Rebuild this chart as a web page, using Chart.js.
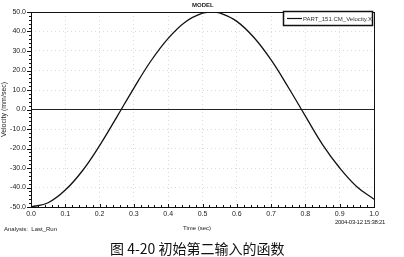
<!DOCTYPE html>
<html>
<head>
<meta charset="utf-8">
<script src="https://cdn.jsdelivr.net/npm/chart.js@4/dist/chart.umd.min.js"></script>
<style>
  body { margin: 0; background: #fff; }
  #wrap { position: relative; width: 404px; height: 257px; overflow: hidden; }
  #myChart { position: absolute; left: 0; top: 0; }
  .txt { position: absolute; font-family: "Liberation Sans", Arial, sans-serif; color: #222; white-space: nowrap; }
</style>
</head>
<body>
<div id="wrap">
  <canvas id="myChart" width="404" height="257"></canvas>
  <div class="txt" style="left:192px; top:2px; font-size:6px; font-weight:bold;">MODEL</div>
  <div class="txt" style="left:183px; top:225px; font-size:6px;">Time (sec)</div>
  <div class="txt" style="left:4px; top:226px; font-size:6px;">Analysis:&nbsp; Last_Run</div>
  <div class="txt" style="left:335px; top:219px; font-size:6px; letter-spacing:-0.3px;">2004-03-12 15:38:21</div>
  <div class="txt" style="left:110px; top:238px; font-size:14px; font-family:'Noto Sans CJK SC', sans-serif; color:#111;">图 4-20 初始第二输入的函数</div>
</div>
<script>
'use strict';

//time values along the x axis (sec)
let timeValues = [0.0, 0.05, 0.1, 0.15, 0.2, 0.25, 0.3, 0.35, 0.4, 0.45, 0.5, 0.53, 0.55, 0.6, 0.65, 0.7, 0.75, 0.8, 0.85, 0.9, 0.95, 1.0];
//velocity (mm/sec)
let velocityValues = [-50.0, -47.8, -41.3, -31.4, -18.5, -3.9, 11.0, 25.0, 36.5, 44.9, 49.4, 50.0, 49.5, 45.2, 36.9, 25.4, 11.4, -3.4, -18.0, -30.0, -39.6, -46.0];
//the zero reference line
let zeroTimes = [0.0, 1.0];
let zeroValues = [0, 0];
//tick labels
let xTicks = ['0.0', '0.1', '0.2', '0.3', '0.4', '0.5', '0.6', '0.7', '0.8', '0.9', '1.0'];
let yTicks = ['-50.0', '-40.0', '-30.0', '-20.0', '-10.0', '0.0', '10.0', '20.0', '30.0', '40.0', '50.0'];
let seriesName = 'PART_151.CM_Velocity.X';

let curvePoints = timeValues.map((t, i) => ({ x: t, y: velocityValues[i] }));
let zeroPoints = zeroTimes.map((t, i) => ({ x: t, y: zeroValues[i] }));

//frame, minor ticks and the legend box
const framePlugin = {
  id: 'frame',
  afterDraw(chart) {
    const ctx = chart.ctx;
    const a = chart.chartArea;
    const xs = chart.scales.x;
    const ys = chart.scales.y;
    ctx.save();
    ctx.strokeStyle = '#111';
    ctx.lineWidth = 1;
    ctx.strokeRect(a.left + 0.5, a.top + 0.5, a.right - a.left, a.bottom - a.top);

    //minor ticks
    ctx.beginPath();
    for (let v = -50; v <= 50; v += 2) {
      let py = Math.round(ys.getPixelForValue(v)) + 0.5;
      let len = v % 10 === 0 ? 4 : 2;
      ctx.moveTo(a.left - len, py);
      ctx.lineTo(a.left, py);
    }
    for (let k = 0; k <= 50; k++) {
      let px = Math.round(xs.getPixelForValue(k / 50)) + 0.5;
      let len = k % 5 === 0 ? 3 : 2;
      ctx.moveTo(px, a.bottom);
      ctx.lineTo(px, a.bottom - len);
    }
    ctx.stroke();

    //legend
    let bx = a.right - 91, by = a.top - 1, bw = 89, bh = 14;
    ctx.fillStyle = '#fff';
    ctx.fillRect(bx, by, bw, bh);
    ctx.lineWidth = 1.5;
    ctx.strokeRect(bx + 0.5, by + 0.5, bw, bh);
    ctx.lineWidth = 1.2;
    ctx.beginPath();
    ctx.moveTo(bx + 4, by + 7.5);
    ctx.lineTo(bx + 19, by + 7.5);
    ctx.stroke();
    ctx.fillStyle = '#333';
    ctx.font = '6px "Liberation Sans", Arial, sans-serif';
    ctx.textBaseline = 'middle';
    ctx.fillText(seriesName, bx + 20, by + 8);
    ctx.restore();
  }
};

const ctx = document.getElementById('myChart').getContext('2d');

const myChart = new Chart(ctx, {
  type: 'line',
  data: {
    datasets: [{
      label: seriesName,
      data: curvePoints,
      borderColor: '#111',
      borderWidth: 1.3,
      pointRadius: 0,
      tension: 0.4,
      fill: false
    },
    {
      label: 'zero',
      data: zeroPoints,
      borderColor: '#222',
      borderWidth: 1,
      pointRadius: 0,
      fill: false
    }]
  },
  options: {
    responsive: false,
    animation: false,
    layout: { padding: { left: 0, top: 12, right: 30, bottom: 0 } },
    plugins: {
      legend: { display: false },
      tooltip: { enabled: false }
    },
    scales: {
      x: {
        type: 'linear',
        min: 0,
        max: 1,
        afterFit: s => { s.height = 50; },
        afterBuildTicks: s => { s.ticks = xTicks.map(t => ({ value: parseFloat(t) })); },
        ticks: {
          padding: 3,
          maxRotation: 0,
          autoSkip: false,
          color: '#222',
          font: { family: 'Liberation Sans', size: 7 },
          callback: (v, i) => xTicks[i]
        },
        grid: { color: '#dadada', drawTicks: false },
        border: { display: false, dash: [1, 3] }
      },
      y: {
        min: -50,
        max: 50,
        afterFit: s => { s.width = 31; },
        afterBuildTicks: s => { s.ticks = yTicks.map(t => ({ value: parseFloat(t) })); },
        ticks: {
          padding: 5,
          autoSkip: false,
          color: '#222',
          font: { family: 'Liberation Sans', size: 7 },
          callback: (v, i) => yTicks[i]
        },
        title: {
          display: true,
          text: 'Velocity (mm/sec)',
          color: '#222',
          padding: 0,
          font: { family: 'Liberation Sans', size: 7 }
        },
        grid: { color: '#dadada', drawTicks: false },
        border: { display: false, dash: [1, 3] }
      }
    }
  },
  plugins: [framePlugin]
});
</script>
</body>
</html>
